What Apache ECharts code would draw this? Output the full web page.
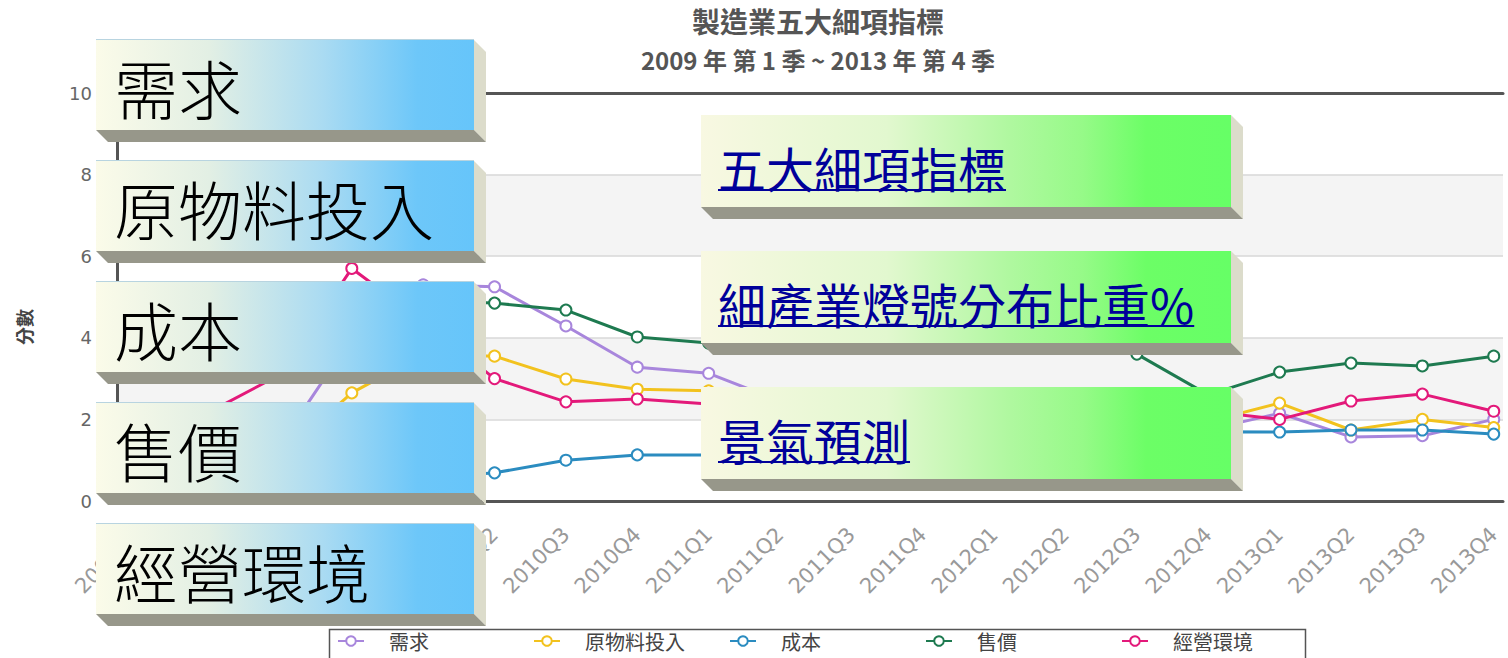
<!DOCTYPE html>
<html>
<head>
<meta charset="utf-8">
<script src="https://cdn.jsdelivr.net/npm/echarts@6/dist/echarts.min.js"></script>
<style>
  body { margin: 0; background: #fff; }
  .wrap { position: relative; width: 1508px; height: 658px; overflow: hidden; }
  #chart { width: 1508px; height: 658px; }
  .btn {
    position: absolute;
    box-sizing: border-box;
    display: flex;
    align-items: center;
    font-family: "Noto Sans CJK TC", sans-serif;
  }
  .btn::before {
    content: '';
    position: absolute;
    left: 100%;
    top: 0;
    width: 12px;
    height: calc(100% + 12px);
    background: #dcdccb;
    clip-path: polygon(0 0, 100% 12px, 100% 100%, 0 calc(100% - 12px));
  }
  .btn::after {
    content: '';
    position: absolute;
    left: 0;
    top: 100%;
    width: calc(100% + 12px);
    height: 12px;
    background: #97978a;
    clip-path: polygon(0 0, calc(100% - 12px) 0, 100% 100%, 12px 100%);
  }
  .side {
    left: 96px;
    width: 378px;
    height: 91px;
    padding: 2px 0 0 18px;
    font-size: 64px;
    font-weight: 300;
    color: #000;
    background: linear-gradient(to right, #fbfbe9 0%, #e2efe4 30%, #aadbf2 60%, #6dc7f9 85%, #66c5fa 100%);
    border-top: 1px solid #b8d4e0;
  }
  .mid {
    left: 701px;
    width: 530px;
    height: 92px;
    padding: 12px 0 0 17px;
    font-size: 48px;
    background: linear-gradient(to right, #f8f8e2 0%, #e2f8cf 35%, #b0f8a0 58%, #96fa88 72%, #6cfe66 84%, #66ff66 100%);
  }
  .mid a { color: #00009a; text-decoration: underline; text-decoration-thickness: 2px; }
</style>
</head>
<body>
<div class="wrap">
  <div id="chart"></div>
  <div class="btn side" style="top:39px">需求</div>
  <div class="btn side" style="top:160px">原物料投入</div>
  <div class="btn side" style="top:281px">成本</div>
  <div class="btn side" style="top:402px">售價</div>
  <div class="btn side" style="top:523px">經營環境</div>
  <div class="btn mid" style="top:115px"><a href="#">五大細項指標</a></div>
  <div class="btn mid" style="top:251px"><a href="#">細產業燈號分布比重%</a></div>
  <div class="btn mid" style="top:387px"><a href="#">景氣預測</a></div>
</div>
<script>
// quarters on the x axis
const quarters = [
  '2009Q1', '2009Q2', '2009Q3', '2009Q4',
  '2010Q1', '2010Q2', '2010Q3', '2010Q4',
  '2011Q1', '2011Q2', '2011Q3', '2011Q4',
  '2012Q1', '2012Q2', '2012Q3', '2012Q4',
  '2013Q1', '2013Q2', '2013Q3', '2013Q4',
]
// 分數 per indicator
const demand = [1.8, 1.6, 1.4, 4.0, 5.3, 5.25, 4.29, 3.28, 3.13, 2.45, 2.3, 2.2, 2.0, 1.9, 1.85, 1.75, 2.15, 1.57, 1.6, 2.0]
const rawMaterial = [1.5, 1.3, 1.1, 2.65, 3.6, 3.55, 2.99, 2.74, 2.7, 2.6, 2.5, 2.4, 2.3, 2.2, 2.0, 1.95, 2.4, 1.74, 2.0, 1.8]
const cost = [1.2, 0.9, 0.6, 0.5, 0.55, 0.69, 1.0, 1.13, 1.13, 1.2, 1.35, 1.45, 1.5, 1.6, 1.65, 1.7, 1.69, 1.74, 1.74, 1.64]
const price = [3.4, 3.9, 4.3, 4.6, 4.9, 4.85, 4.68, 4.02, 3.87, 3.85, 3.8, 3.8, 3.85, 3.75, 3.6, 2.6, 3.16, 3.38, 3.31, 3.55]
const environment = [1.9, 2.18, 3.1, 5.7, 4.4, 3.0, 2.43, 2.5, 2.38, 2.3, 2.3, 2.2, 2.2, 2.1, 2.15, 2.2, 2.0, 2.45, 2.62, 2.2]

const nameList = ['需求', '原物料投入', '成本', '售價', '經營環境']
const valueList = [demand, rawMaterial, cost, price, environment]
const color = ['#a886dc', '#f2c21e', '#2b8cc0', '#1e7a50', '#e3197a']

const myChart = echarts.init(document.getElementById('chart'), null, { renderer: 'svg' })

let seriesData = []
nameList.forEach((name, i) => {
  seriesData.push({
    name: name,
    type: 'line',
    color: color[i],
    symbol: 'emptyCircle',
    symbolSize: 11,
    itemStyle: { borderWidth: 2 },
    lineStyle: { width: 3 },
    data: valueList[i].map((v, j) => [j, v]),
  })
})

// one legend per item so the items sit on an even pitch, like the original
let legendList = nameList.map((name, i) => ({
  left: 337 + i * 196,
  top: 631,
  padding: 0,
  itemWidth: 26,
  itemHeight: 12,
  textStyle: { fontSize: 20, color: '#444', fontFamily: 'Noto Sans CJK TC', padding: [0, 0, 0, 20] },
  data: [name],
}))

const xRange = { min: -0.29, max: 19.13 }

const option = {
  backgroundColor: '#fff',
  animation: false,
  title: {
    text: '製造業五大細項指標',
    subtext: '2009 年 第 1 季 ~ 2013 年 第 4 季',
    left: 813,
    top: 2,
    textAlign: 'center',
    itemGap: 12,
    textStyle: { fontSize: 28, fontWeight: 'bold', color: '#555', fontFamily: 'Noto Sans CJK TC' },
    subtextStyle: { fontSize: 24, fontWeight: 'bold', color: '#555', fontFamily: 'Noto Sans CJK TC' },
  },
  graphic: [
    {
      type: 'rect',
      left: 327,
      top: 627,
      shape: { width: 976, height: 45 },
      style: { fill: 'none', stroke: '#555', lineWidth: 1.5 },
      silent: true,
    },
  ],
  grid: { left: 117, right: 5, top: 93, bottom: 157 },
  legend: legendList,
  xAxis: [
    {
      type: 'value',
      min: xRange.min,
      max: xRange.max,
      axisLine: { show: true, onZero: false, lineStyle: { color: '#555', width: 3 } },
      axisTick: { show: false },
      splitLine: { show: false },
      axisLabel: {
        customValues: quarters.map((q, i) => i),
        formatter: (v) => quarters[v],
        rotate: 45,
        margin: 30,
        fontSize: 21,
        color: '#999',
        fontFamily: 'DejaVu Sans',
      },
    },
    {
      type: 'value',
      position: 'top',
      min: xRange.min,
      max: xRange.max,
      axisLine: { show: true, onZero: false, lineStyle: { color: '#555', width: 3 } },
      axisTick: { show: false },
      axisLabel: { show: false },
      splitLine: { show: false },
    },
  ],
  yAxis: {
    type: 'value',
    min: 0,
    max: 10,
    interval: 2,
    name: '分數',
    nameLocation: 'middle',
    nameGap: 84,
    nameTextStyle: { fontSize: 18, fontWeight: 'bold', color: '#444', fontFamily: 'Noto Sans CJK TC', padding: [0, 60, 0, 0] },
    axisLine: { show: true, onZero: false, lineStyle: { color: '#555', width: 3 } },
    axisTick: { show: false },
    axisLabel: { margin: 25, fontSize: 18, color: '#666', fontFamily: 'DejaVu Sans' },
    splitLine: { show: true, lineStyle: { color: '#d8d8d8', width: 1.5 } },
    splitArea: { show: true, areaStyle: { color: ['#ffffff', '#f4f4f4'] } },
  },
  series: seriesData,
}
myChart.setOption(option)
</script>
</body>
</html>
